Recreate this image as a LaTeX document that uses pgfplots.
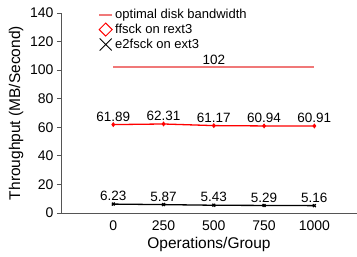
\documentclass[border=0pt]{standalone}
\usepackage{pgfplots}
\pgfplotsset{compat=1.18}
\usepackage{fontspec}
\setmainfont{Liberation Sans}
\definecolor{optred}{RGB}{240,120,120}
\definecolor{axgray}{HTML}{555555}
\begin{document}
\begin{tikzpicture}
\begin{axis}[name=ax, scale only axis, width=296pt, height=200pt,
 xmin=-260, xmax=1212, ymin=0, ymax=140,
 axis x line=bottom, axis y line=left,
 axis line style={axgray, -, line width=0.8pt},
 xtick={0,250,500,750,1000}, ytick={0,20,...,140},
 x tick style={draw=none}, y tick style={axgray, line width=0.8pt},
 tick align=outside, major tick length=4pt,
 tick label style={font=\fontsize{14}{16}\selectfont},
 /pgf/number format/assume math mode=true, /pgf/number format/1000 sep={},
 xlabel={Operations/Group}, ylabel={Throughput (MB/Second)},
 label style={font=\fontsize{15.5}{18}\selectfont},
 legend style={draw=none, fill=none, at={(rel axis cs:0.125,1.03)}, anchor=north west,
   font=\fontsize{13}{14}\selectfont, inner sep=0pt, row sep=0pt},
 legend cell align=left,
 clip=false,
 nodes near coords style={font=\fontsize{13.5}{15}\selectfont, black, inner sep=2.5pt},
]
\addlegendimage{legend image code/.code={\draw[optred, line width=2pt] (0pt,0pt) -- (13pt,0pt);}}
\addlegendentry{optimal disk bandwidth}
\addlegendimage{legend image code/.code={\draw[red, line width=0.9pt] (6.5pt,0pt) +(0,-6.5pt) -- +(6.5pt,0) -- +(0,6.5pt) -- +(-6.5pt,0) -- cycle;}}
\addlegendentry{ffsck on rext3}
\addlegendimage{legend image code/.code={\draw[black, line width=0.9pt] (6.5pt,0pt) +(-6pt,-6pt) -- +(6pt,6pt) +(-6pt,6pt) -- +(6pt,-6pt);}}
\addlegendentry{e2fsck on ext3}

\addplot[forget plot, color=optred, solid, line width=2pt, mark=none] coordinates {(0,102) (1000,102)};
\addplot[forget plot, red, line width=1.3pt, mark=diamond*, mark size=1.5pt, nodes near coords, point meta=explicit symbolic] coordinates {
(0,61.89) [61.89] (250,62.31) [62.31] (500,61.17) [61.17] (750,60.94) [60.94] (1000,60.91) [60.91]};
\addplot[forget plot, black, line width=1.3pt, mark=x, mark size=2pt, nodes near coords, point meta=explicit symbolic] coordinates {
(0,6.23) [6.23] (250,5.87) [5.87] (500,5.43) [5.43] (750,5.29) [5.29] (1000,5.16) [5.16]};
\node[above, font=\fontsize{13.5}{15}\selectfont, inner sep=2.5pt] at (axis cs:500,102) {102};
\end{axis}
\pgfresetboundingbox
\path (ax.south west) ++(-61pt,-44pt) rectangle ++(357pt,257pt);
\end{tikzpicture}
\end{document}
